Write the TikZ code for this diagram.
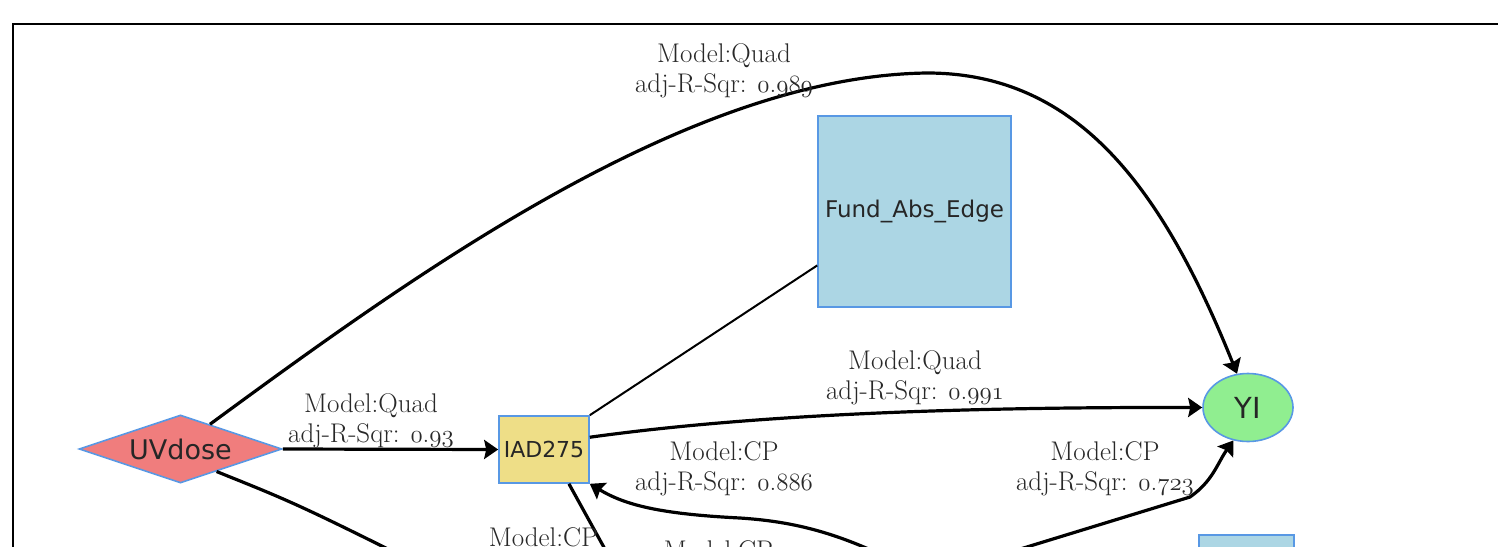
\documentclass[tikz,border=0pt]{standalone}
\usepackage{fontspec}
\newfontfamily\nodefont{DejaVu Sans}
\usetikzlibrary{shapes.geometric,arrows.meta}
\definecolor{nodeline}{RGB}{88,152,228}
\definecolor{uvfill}{RGB}{240,125,125}
\definecolor{iadfill}{RGB}{238,222,135}
\definecolor{fundfill}{RGB}{172,214,228}
\definecolor{yifill}{RGB}{144,238,144}
\definecolor{labelgray}{RGB}{40,40,40}
\newcommand\osd[1]{{\usefont{OML}{lmm}{m}{it}#1}}
\newcommand\rsq[2]{adj-R-Sqr: \osd{#1}.\osd{#2}}

\begin{document}
\begin{tikzpicture}[x=1pt,y=1pt,
        vnode/.style={draw=nodeline,line width=1.6pt,inner sep=0pt,text=black!85},
        edge/.style={line width=3.2pt,-{Stealth[length=14pt,width=19pt,inset=2pt]}},
        elabel/.style={align=center,inner sep=0pt,text=labelgray,font=\fontsize{27}{29.5}\selectfont}]
                \clip(0,0)rectangle(1498,-546);
                \draw[line width=2.8pt](13,-560)--(13,-24)--(1510,-24);
                \node[vnode,diamond,aspect=3,fill=uvfill,minimum width=203pt,minimum height=68pt,font={\nodefont\fontsize{27}{30}\selectfont}](uv)at(180.5,-449){UVdose};
                \node[vnode,rectangle,fill=iadfill,minimum width=90pt,minimum height=67pt,font={\nodefont\fontsize{22}{26}\selectfont}](iad)at(544,-449.5){IAD275};
                \node[vnode,rectangle,fill=fundfill,minimum width=193pt,minimum height=191pt,font={\nodefont\fontsize{23}{27}\selectfont}](fund)at(914.5,-211.5){Fund\_Abs\_Edge};
                \node[vnode,ellipse,fill=yifill,minimum width=90pt,minimum height=68pt,font={\nodefont\fontsize{29}{32}\selectfont}](yi)at(1248,-407.5){YI};
                \node[vnode,rectangle,fill=fundfill,minimum width=95pt,minimum height=60pt](low)at(1246.5,-565){};
                \coordinate(cpa)at(930,-580);
                \coordinate(cpb)at(880,-592);
                \coordinate(bend)at(1190,-497);
                \coordinate(iadout)at(633,-600);
                \coordinate(uvout)at(490,-600);
                \draw[edge](uv.east)--(iad.west);
                \draw[edge](uv.40)..controls(420,-270)and(690,-76)..(927,-73)..controls(1077,-73)and(1162,-187)..(yi.108);
                \draw[edge](iad.15)..controls(750,-415)and(950,-407)..(yi.west);
                \draw[line width=2pt](iad.north east)--(fund.209.5);
                \draw[edge](cpa)..controls(850,-535)and(800,-522)..(740,-518)..controls(660,-514)and(625,-505)..(iad.south east);
                \draw[edge](cpb)--(bend)to[out=35,in=235](yi.246);
                \draw[edge](iad.-54)--(iadout);
                \draw[edge](uv.-32)..controls(300,-505)..(uvout);
                \node[elabel](lq93)at(371,-421){Model:Quad\\\rsq{0}{93}};
                \node[elabel](lq989)at(724,-71){Model:Quad\\\rsq{0}{989}};
                \node[elabel](lq991)at(915,-378){Model:Quad\\\rsq{0}{991}};
                \node[elabel](lc886)at(724,-469){Model:CP\\\rsq{0}{886}};
                \node[elabel](lc723)at(1105,-469){Model:CP\\\rsq{0}{723}};
                \node[elabel,anchor=base](lcpa)at(543.5,-546.5){Model:CP};
                \node[elabel,anchor=base](lcpb)at(718.5,-559.5){Model:CP};
            \end{tikzpicture}
\end{document}
